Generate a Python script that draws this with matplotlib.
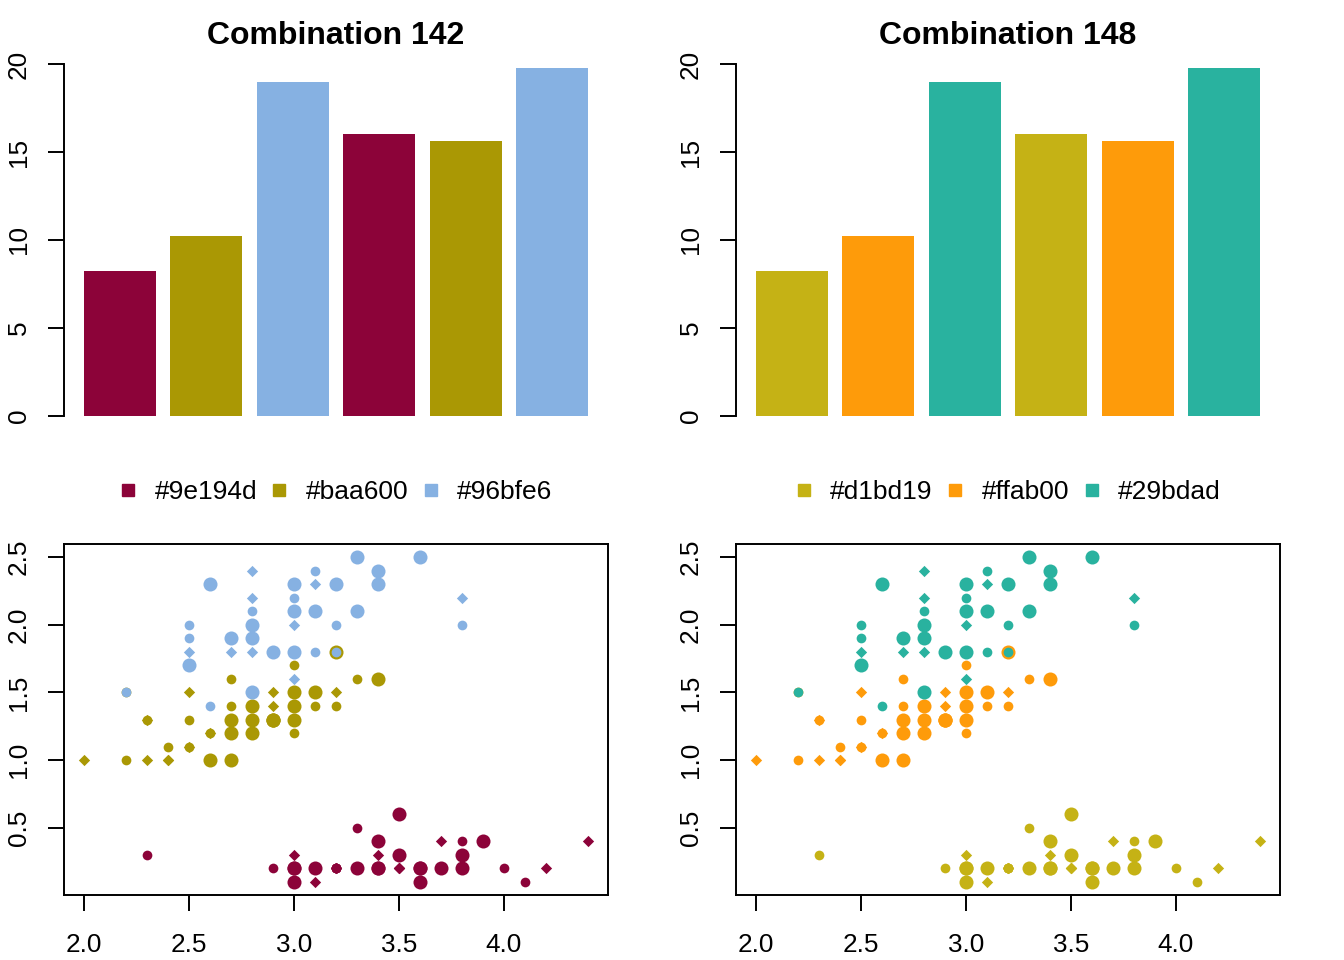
import matplotlib.pyplot as plt
from matplotlib.lines import Line2D
import numpy as np

plt.rcParams['font.family'] = ['Liberation Sans', 'DejaVu Sans']

# Bar heights (same in both combinations)
bar_values = [8.25, 10.25, 19.0, 16.0, 15.6, 19.8]

titles = ['Combination 142', 'Combination 148']
legend_labels = [['#9e194d', '#baa600', '#96bfe6'],
                 ['#d1bd19', '#ffab00', '#29bdad']]
# colours as they appear in the picture
drawn_colors = [['#8c0339', '#aa9804', '#86b1e2'],
                ['#c5b215', '#fe9b0a', '#29b29f']]

# iris: Sepal.Width / Petal.Width by species
setosa_sw = [3.5, 3.0, 3.2, 3.1, 3.6, 3.9, 3.4, 3.4, 2.9, 3.1,
             3.7, 3.4, 3.0, 3.0, 4.0, 4.4, 3.9, 3.5, 3.8, 3.8,
             3.4, 3.7, 3.6, 3.3, 3.4, 3.0, 3.4, 3.5, 3.4, 3.2,
             3.1, 3.4, 4.1, 4.2, 3.1, 3.2, 3.5, 3.6, 3.0, 3.4,
             3.5, 2.3, 3.2, 3.5, 3.8, 3.0, 3.8, 3.2, 3.7, 3.3]
setosa_pw = [0.2, 0.2, 0.2, 0.2, 0.2, 0.4, 0.3, 0.2, 0.2, 0.1,
             0.2, 0.2, 0.1, 0.1, 0.2, 0.4, 0.4, 0.3, 0.3, 0.3,
             0.2, 0.4, 0.2, 0.5, 0.2, 0.2, 0.4, 0.2, 0.2, 0.2,
             0.2, 0.4, 0.1, 0.2, 0.2, 0.2, 0.2, 0.1, 0.2, 0.2,
             0.3, 0.3, 0.2, 0.6, 0.4, 0.3, 0.2, 0.2, 0.2, 0.2]
versicolor_sw = [3.2, 3.2, 3.1, 2.3, 2.8, 2.8, 3.3, 2.4, 2.9, 2.7,
                 2.0, 3.0, 2.2, 2.9, 2.9, 3.1, 3.0, 2.7, 2.2, 2.5,
                 3.2, 2.8, 2.5, 2.8, 2.9, 3.0, 2.8, 3.0, 2.9, 2.6,
                 2.4, 2.4, 2.7, 2.7, 3.0, 3.4, 3.1, 2.3, 3.0, 2.5,
                 2.6, 3.0, 2.6, 2.3, 2.7, 3.0, 2.9, 2.9, 2.5, 2.8]
versicolor_pw = [1.4, 1.5, 1.5, 1.3, 1.5, 1.3, 1.6, 1.0, 1.3, 1.4,
                 1.0, 1.5, 1.0, 1.4, 1.3, 1.4, 1.5, 1.0, 1.5, 1.1,
                 1.8, 1.3, 1.5, 1.2, 1.3, 1.4, 1.4, 1.7, 1.5, 1.0,
                 1.1, 1.0, 1.2, 1.6, 1.5, 1.6, 1.5, 1.3, 1.3, 1.3,
                 1.2, 1.4, 1.2, 1.0, 1.3, 1.2, 1.3, 1.3, 1.1, 1.3]
virginica_sw = [3.3, 2.7, 3.0, 2.9, 3.0, 3.0, 2.5, 2.9, 2.5, 3.6,
                3.2, 2.7, 3.0, 2.5, 2.8, 3.2, 3.0, 3.8, 2.6, 2.2,
                3.2, 2.8, 2.8, 2.7, 3.3, 3.2, 2.8, 3.0, 2.8, 3.0,
                2.8, 3.8, 2.8, 2.8, 2.6, 3.0, 3.4, 3.1, 3.0, 3.1,
                3.1, 3.1, 2.7, 3.2, 3.3, 3.0, 2.5, 3.0, 3.4, 3.0]
virginica_pw = [2.5, 1.9, 2.1, 1.8, 2.2, 2.1, 1.7, 1.8, 1.8, 2.5,
                2.0, 1.9, 2.1, 2.0, 2.4, 2.3, 1.8, 2.2, 2.3, 1.5,
                2.3, 2.0, 2.0, 1.8, 2.1, 1.8, 1.8, 1.8, 2.1, 1.6,
                1.9, 2.0, 2.2, 1.5, 1.4, 2.3, 2.4, 1.8, 1.8, 2.1,
                2.4, 2.3, 1.9, 2.3, 2.5, 2.3, 1.9, 2.0, 2.3, 1.8]

species = [(setosa_sw, setosa_pw), (versicolor_sw, versicolor_pw), (virginica_sw, virginica_pw)]

# point shapes recycled by row (like pch = 18:20): diamond, big dot, small dot
shapes = [('D', 33), ('o', 102), ('o', 49)]

W, H = 1344, 960


def rect(l, t, r, b):
    return [l / W, 1 - b / H, (r - l) / W, (b - t) / H]


fig = plt.figure(figsize=(W / 100, H / 100), dpi=100)
lw = 1.4
fs = 18.8

for k in range(2):
    off = 672 * k
    cols = drawn_colors[k]

    # bar chart
    ax = fig.add_axes(rect(64 + off, 53.6, 608 + off, 429.9))
    x = 0.7 + 1.2 * np.arange(len(bar_values))
    ax.bar(x, bar_values, width=1, color=[cols[i % 3] for i in range(len(bar_values))])
    ax.set_xlim(-0.08, 7.48)
    ax.set_ylim(-0.792, 20.592)
    for s in ['top', 'right', 'bottom']:
        ax.spines[s].set_visible(False)
    ax.spines['left'].set_bounds(0, 20)
    ax.spines['left'].set_linewidth(lw)
    ax.set_xticks([])
    ax.set_yticks([0, 5, 10, 15, 20])
    ax.tick_params(axis='y', length=11.5, width=lw, pad=12.5, labelsize=fs, labelrotation=90)
    for lab in ax.get_yticklabels():
        lab.set_va('center')

    fig.text((336 + off) / W, 1 - 44 / H, titles[k], ha='center', va='baseline',
             fontsize=23, fontweight='bold')

    # legend
    handles = [Line2D([], [], marker='s', linestyle='none', color=c, markersize=8.6) for c in cols]
    fig.legend(handles, legend_labels[k], loc='center',
               bbox_to_anchor=((335 + off) / W, 1 - 492 / H), ncol=3, frameon=False,
               fontsize=19, handlelength=0.8, handletextpad=0.6, columnspacing=0.45,
               borderaxespad=0, borderpad=0)

    # scatter
    ax2 = fig.add_axes(rect(64 + off, 544, 608 + off, 895))
    start = 0
    for s_idx, (sw, pw) in enumerate(species):
        sw = np.array(sw)
        pw = np.array(pw)
        rows = start + np.arange(len(sw))
        for m in range(3):
            sel = rows % 3 == m
            ax2.scatter(sw[sel], pw[sel], marker=shapes[m][0], s=shapes[m][1],
                        color=cols[s_idx], linewidths=0)
        start += len(sw)
    ax2.set_xlim(1.904, 4.496)
    ax2.set_ylim(0.004, 2.596)
    for s in ax2.spines.values():
        s.set_linewidth(lw)
    ax2.set_xticks([2.0, 2.5, 3.0, 3.5, 4.0])
    ax2.set_xticklabels(['2.0', '2.5', '3.0', '3.5', '4.0'])
    ax2.set_yticks([0.5, 1.0, 1.5, 2.0, 2.5])
    ax2.set_yticklabels(['0.5', '1.0', '1.5', '2.0', '2.5'])
    ax2.tick_params(axis='x', length=11.5, width=lw, pad=16, labelsize=fs)
    ax2.tick_params(axis='y', length=11.5, width=lw, pad=12.5, labelsize=fs, labelrotation=90)
    for lab in ax2.get_yticklabels():
        lab.set_va('center')

fig.savefig('out.png', dpi=100)
